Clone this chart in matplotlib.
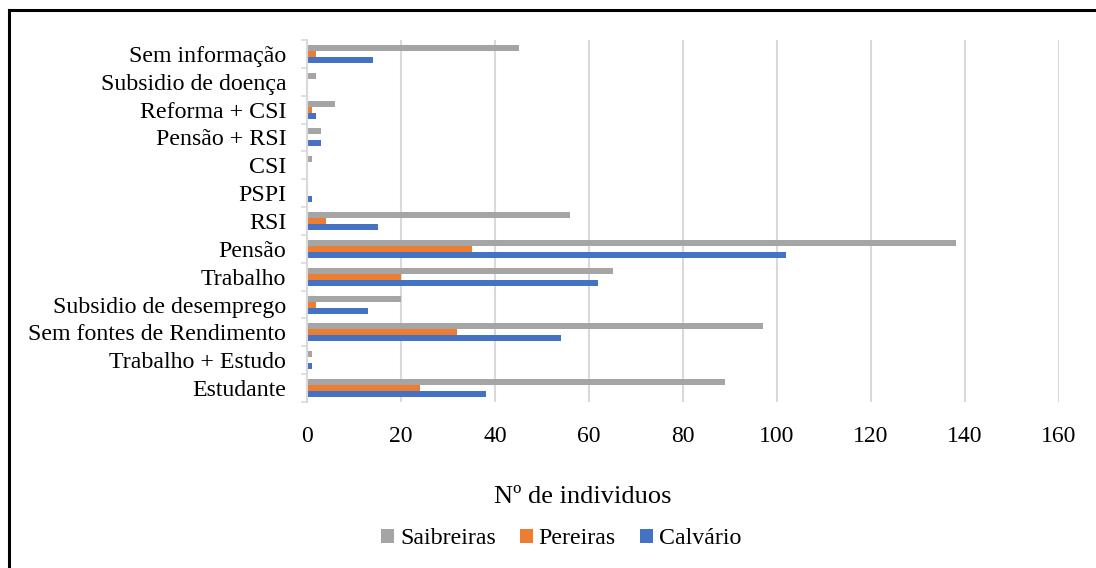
import matplotlib
matplotlib.use("Agg")
import matplotlib.pyplot as plt
from matplotlib.lines import Line2D
import numpy as np

plt.rcParams['font.family'] = ['Liberation Serif', 'DejaVu Serif']

categories = ["Estudante", "Trabalho + Estudo", "Sem fontes de Rendimento",
              "Subsidio de desemprego", "Trabalho", "Pensão", "RSI", "PSPI",
              "CSI", "Pensão + RSI", "Reforma + CSI", "Subsidio de doença",
              "Sem informação"]
saibreiras = [89, 1, 97, 20, 65, 138, 56, 0, 1, 3, 6, 2, 45]
pereiras = [24, 0, 32, 2, 20, 35, 4, 0, 0, 0, 1, 0, 2]
calvario = [38, 1, 54, 13, 62, 102, 15, 1, 0, 3, 2, 0, 14]
x_ticks = [0, 20, 40, 60, 80, 100, 120, 140, 160]

W, H = 1096, 568
fig = plt.figure(figsize=(W / 100, H / 100), dpi=100)
ax = fig.add_axes([307 / W, 1 - 402 / H, (1059 - 307) / W, (402 - 40) / H])

y = np.arange(len(categories))
h = 0.215
ax.barh(y + h, saibreiras, height=h, color="#A5A5A5", label="Saibreiras", zorder=3)
ax.barh(y, pereiras, height=h, color="#ED7D31", label="Pereiras", zorder=3)
ax.barh(y - h, calvario, height=h, color="#4472C4", label="Calvário", zorder=3)

ax.set_xlim(0, 160)
ax.set_ylim(-0.5, len(categories) - 0.5)
ax.set_xticks(x_ticks)
ax.set_xticklabels([str(v) for v in x_ticks], fontsize=17)
ax.tick_params(axis="x", length=0, pad=17)
ax.set_yticks(y)
ax.set_yticklabels(categories, fontsize=17.2)
ax.tick_params(axis="y", which="major", length=0, pad=15)
ax.set_yticks(np.arange(-0.5, len(categories)), minor=True)
ax.tick_params(axis="y", which="minor", length=4, width=1.2, color="#D9D9D9")

ax.grid(axis="x", color="#D9D9D9", linewidth=1.5, zorder=0)
for s in ("top", "right", "bottom"):
    ax.spines[s].set_visible(False)
ax.spines["left"].set_color("#D9D9D9")
ax.spines["left"].set_linewidth(1.5)
ax.spines["left"].set_zorder(4)

fig.text(583 / W, 1 - 497 / H, "Nº de individuos", fontsize=19,
         ha="center", va="center")

handles, labels = ax.get_legend_handles_labels()
fig.legend(handles, labels, loc="center", bbox_to_anchor=(561 / W, 1 - 539 / H),
           ncol=3, frameon=False, fontsize=17.2, handlelength=0.55,
           handleheight=0.55, handletextpad=0.25, columnspacing=1.0)

# outer frame (top and left edges)
fig.add_artist(Line2D([8.5 / W, 1], [1 - 10 / H, 1 - 10 / H], color="black",
                      linewidth=2.2, transform=fig.transFigure))
fig.add_artist(Line2D([8.5 / W, 8.5 / W], [0, 1 - 10 / H], color="black",
                      linewidth=2.2, transform=fig.transFigure))

fig.savefig("out.png", dpi=100)
